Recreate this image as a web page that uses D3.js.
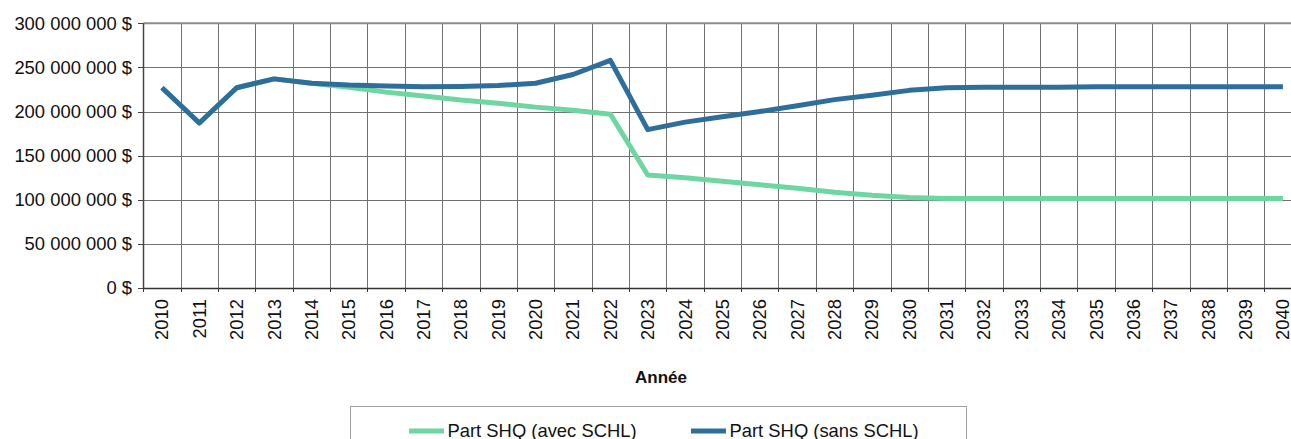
<!DOCTYPE html>
<meta charset="UTF-8">
<html>
<head>
	<title>Part SHQ</title>
	<script src="https://d3js.org/d3.v7.min.js"></script>
	<style>
		body { margin: 0; overflow: hidden; background: #fff; }
		svg text { font-family: Arial, "Liberation Sans", sans-serif; fill: #111; }
	</style>
</head>
<body>
	<svg id="chart" width="1291" height="439"></svg>

	<script>
		// Data
		var years = ["2010","2011","2012","2013","2014","2015","2016","2017","2018","2019",
			"2020","2021","2022","2023","2024","2025","2026","2027","2028","2029",
			"2030","2031","2032","2033","2034","2035","2036","2037","2038","2039","2040"];

		var avecSCHL = [227000000, 187000000, 227000000, 237000000, 232000000, 227500000,
			222000000, 217500000, 213000000, 209500000, 205000000, 201500000, 197000000,
			128000000, 125000000, 121000000, 117000000, 113000000, 108500000, 105000000,
			102500000, 101500000, 101500000, 101500000, 101500000, 101500000, 101500000,
			101500000, 101500000, 101500000, 101500000];

		var sansSCHL = [227000000, 187000000, 227000000, 237000000, 232000000, 230000000,
			229000000, 228000000, 228500000, 229500000, 232000000, 242000000, 258000000,
			179500000, 188000000, 194000000, 200000000, 206500000, 213500000, 218500000,
			224000000, 227000000, 227500000, 227500000, 227500000, 228000000, 228000000,
			228000000, 228000000, 228000000, 228000000];

		var yTicks = [0, 50000000, 100000000, 150000000, 200000000, 250000000, 300000000];

		var seriesNames = ["Part SHQ (avec SCHL)", "Part SHQ (sans SCHL)"];
		var seriesColors = ["#6ed6a1", "#2e6e9b"];

		var svg = d3.select("#chart");

		// Plot area runs past the right edge, like the original crop
		var x = d3.scaleBand()
			.domain(years)
			.range([143.3, 1301.6])
			.padding(0);
		var y = d3.scaleLinear()
			.domain([0, 300000000])
			.range([288, 23.3]);

		var fr = d3.formatLocale({decimal: ",", thousands: " ", grouping: [3], currency: ["", " $"]});
		var fmt = function(d){ return fr.format(",")(d) + " $"; };

		var crisp = function(v){ return Math.round(v) + 0.5; };

		// horizontal gridlines
		svg.selectAll("line.hgrid")
			.data(yTicks.slice(1, -1))
			.enter()
			.append("line")
				.attr("x1", x.range()[0])
				.attr("x2", x.range()[1])
				.attr("y1", function(d){ return crisp(y(d)); })
				.attr("y2", function(d){ return crisp(y(d)); })
				.attr("stroke", "#707070")
				.attr("stroke-width", 1);

		// vertical gridlines at category boundaries
		svg.selectAll("line.vgrid")
			.data(years.slice(1))
			.enter()
			.append("line")
				.attr("x1", function(d){ return crisp(x(d)); })
				.attr("x2", function(d){ return crisp(x(d)); })
				.attr("y1", y(300000000))
				.attr("y2", y(0))
				.attr("stroke", "#707070")
				.attr("stroke-width", 1);

		// top border
		svg.append("line")
			.attr("x1", x.range()[0])
			.attr("x2", x.range()[1])
			.attr("y1", y(300000000))
			.attr("y2", y(300000000))
			.attr("stroke", "#8c8c8c")
			.attr("stroke-width", 2);

		// y axis
		svg.append("line")
			.attr("x1", crisp(x.range()[0]))
			.attr("x2", crisp(x.range()[0]))
			.attr("y1", y(300000000))
			.attr("y2", y(0))
			.attr("stroke", "#444")
			.attr("stroke-width", 1.5);

		svg.selectAll("line.ytick")
			.data(yTicks)
			.enter()
			.append("line")
				.attr("x1", 138)
				.attr("x2", x.range()[0])
				.attr("y1", function(d){ return crisp(y(d)); })
				.attr("y2", function(d){ return crisp(y(d)); })
				.attr("stroke", "#444");

		svg.selectAll("text.ylab")
			.data(yTicks)
			.enter()
			.append("text")
				.attr("x", 132)
				.attr("y", function(d){ return y(d); })
				.attr("dy", "0.35em")
				.attr("text-anchor", "end")
				.style("font-size", "18.4px")
				.text(fmt);

		// x axis
		svg.append("line")
			.attr("x1", x.range()[0])
			.attr("x2", x.range()[1])
			.attr("y1", crisp(y(0)))
			.attr("y2", crisp(y(0)))
			.attr("stroke", "#333")
			.attr("stroke-width", 1.5);

		svg.selectAll("line.xtick")
			.data(years)
			.enter()
			.append("line")
				.attr("x1", function(d){ return crisp(x(d)); })
				.attr("x2", function(d){ return crisp(x(d)); })
				.attr("y1", y(0))
				.attr("y2", y(0) + 4)
				.attr("stroke", "#333");

		svg.selectAll("text.xlab")
			.data(years)
			.enter()
			.append("text")
				.attr("transform", function(d){
					return "translate(" + (x(d) + x.bandwidth()/2) + ",299) rotate(-90)";
				})
				.attr("dy", "0.35em")
				.attr("text-anchor", "end")
				.style("font-size", "18.4px")
				.text(function(d){ return d; });

		svg.append("text")
			.attr("x", 661)
			.attr("y", 383)
			.attr("text-anchor", "middle")
			.style("font-size", "17px")
			.style("font-weight", "bold")
			.text("Année");

		// lines: green first, blue drawn on top
		var line = d3.line()
			.x(function(d, i){ return x(years[i]) + x.bandwidth()/2; })
			.y(function(d){ return y(d); });

		[avecSCHL, sansSCHL].forEach(function(s, k){
			svg.append("path")
				.datum(s)
				.attr("d", line)
				.attr("fill", "none")
				.attr("stroke", seriesColors[k])
				.attr("stroke-width", 5)
				.attr("stroke-linejoin", "round");
		});

		// legend
		svg.append("rect")
			.attr("x", 350.5)
			.attr("y", 406.5)
			.attr("width", 616)
			.attr("height", 60)
			.attr("fill", "none")
			.attr("stroke", "#a0a0a0");

		var legendX = [409, 691];
		seriesNames.forEach(function(n, k){
			svg.append("line")
				.attr("x1", legendX[k])
				.attr("x2", legendX[k] + 35)
				.attr("y1", 431)
				.attr("y2", 431)
				.attr("stroke", seriesColors[k])
				.attr("stroke-width", 5);
			svg.append("text")
				.attr("x", legendX[k] + 38.5)
				.attr("y", 437)
				.style("font-size", "18.4px")
				.text(n);
		});
	</script>
</body>
</html>
